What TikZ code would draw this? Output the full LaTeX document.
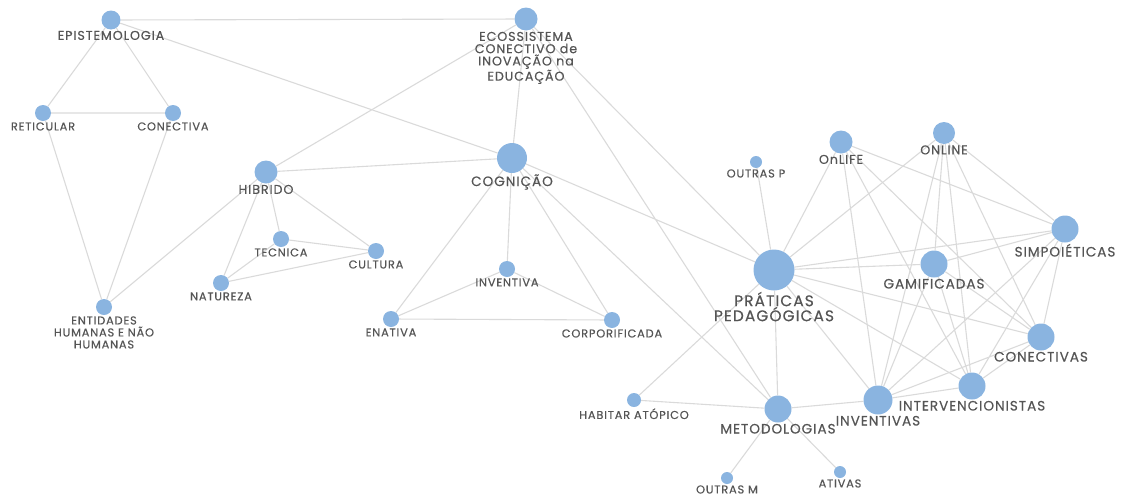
\documentclass[tikz,border=0pt]{standalone}
\usepackage{fontspec}
\setmainfont{Poppins}[LetterSpace=7,FakeBold=0.4]
\usetikzlibrary{backgrounds}
\definecolor{dotblue}{RGB}{138,180,224}
\definecolor{linkgray}{RGB}{218,218,218}
\definecolor{tagray}{RGB}{85,85,85}
\tikzset{
  dot/.style={circle,fill=dotblue,inner sep=0pt,minimum size=#1},
  tagS/.style={text=tagray,inner sep=1pt,align=center,font=\fontsize{11.4}{12}\selectfont},
  tagM/.style={text=tagray,inner sep=1pt,align=center,font=\fontsize{12.7}{12.3}\selectfont},
  tagL/.style={text=tagray,inner sep=1pt,align=center,font=\fontsize{13.6}{14}\selectfont},
  tagXL/.style={text=tagray,inner sep=1pt,align=center,font=\fontsize{15.4}{15}\selectfont},
  link/.style={draw=linkgray,line width=1.1pt},
}
\begin{document}
\begin{tikzpicture}[x=1pt,y=-1pt]
  \useasboundingbox (0,0) rectangle (1121,498);
  % left block
  \node[dot=19pt,label={[tagM]below:EPISTEMOLOGIA}] (epi) at (111,20) {};
  \node[dot=16pt,label={[tagS]below:RETICULAR}] (ret) at (43,113) {};
  \node[dot=16pt,label={[tagS]below:CONECTIVA}] (con) at (173,113) {};
  \node[dot=16pt,label={[tagS]below:ENTIDADES\\HUMANAS E NÃO\\HUMANAS}] (ent) at (104,307) {};
  \node[dot=23pt,label={[tagM]below:HIBRIDO}] (hib) at (266,172) {};
  \node[dot=16pt,label={[tagS]below:TECNICA}] (tec) at (281,239) {};
  \node[dot=16pt,label={[tagS]below:CULTURA}] (cul) at (376,251) {};
  \node[dot=16pt,label={[tagS]below:NATUREZA}] (nat) at (221,283) {};
  % middle block
  \node[dot=23pt,label={[tagM]below:ECOSSISTEMA\\CONECTIVO de\\INOVAÇÃO na\\EDUCAÇÃO}] (eco) at (526,19) {};
  \node[dot=30pt,label={[tagL]below:COGNIÇÃO}] (cog) at (512,158) {};
  \node[dot=16pt,label={[tagS]below:INVENTIVA}] (inv) at (507,269) {};
  \node[dot=16pt,label={[tagS]below:ENATIVA}] (ena) at (391,319) {};
  \node[dot=16pt,label={[tagS]below:CORPORIFICADA}] (cor) at (612,320) {};
  % right block
  \node[dot=41pt,label={[tagXL]below:PRÁTICAS\\PEDAGÓGICAS}] (prat) at (774,270) {};
  \node[dot=12pt,label={[tagS]below:OUTRAS P}] (outp) at (756,162) {};
  \node[dot=23pt,label={[tagM]below:OnLIFE}] (onlife) at (841,142) {};
  \node[dot=22pt,label={[tagM]below:ONLINE}] (online) at (944,133) {};
  \node[dot=27pt,label={[tagL]below:SIMPOIÉTICAS}] (simp) at (1065,229) {};
  \node[dot=27pt,label={[tagL]below:GAMIFICADAS}] (gam) at (934,264) {};
  \node[dot=27pt,label={[tagL]below:CONECTIVAS}] (conv) at (1041,337) {};
  \node[dot=27pt,label={[tagL]below:INTERVENCIONISTAS}] (interv) at (972,386) {};
  \node[dot=29pt,label={[tagL]below:INVENTIVAS}] (invs) at (878,400) {};
  \node[dot=27pt,label={[tagL]below:METODOLOGIAS}] (met) at (778,409) {};
  \node[dot=14pt,label={[tagS]below:HABITAR ATÓPICO}] (hab) at (634,400) {};
  \node[dot=12pt,label={[tagS]below:OUTRAS M}] (outm) at (727,478) {};
  \node[dot=12pt,label={[tagS]below:ATIVAS}] (ati) at (840,472) {};
  \begin{pgfonlayer}{background}
    \draw[link] (epi) -- (eco) (epi) -- (ret) (epi) -- (con) (epi) -- (cog)
      (ret) -- (con) (ret) -- (ent) (con) -- (ent) (ent) -- (hib);
    \draw[link] (hib) -- (eco) (hib) -- (cog) (hib) -- (tec) (hib) -- (nat) (hib) -- (cul)
      (tec) -- (cul) (tec) -- (nat) (nat) -- (cul);
    \draw[link] (eco) -- (cog) (eco) -- (prat) (eco) -- (met)
      (cog) -- (inv) (cog) -- (ena) (cog) -- (cor) (cog) -- (prat) (cog) -- (met)
      (inv) -- (ena) (inv) -- (cor) (ena) -- (cor);
    \draw[link] (outp) -- (prat) (prat) -- (onlife) (prat) -- (online) (prat) -- (simp)
      (prat) -- (gam) (prat) -- (conv) (prat) -- (interv) (prat) -- (invs)
      (prat) -- (met) (prat) -- (hab);
    \draw[link] (onlife) -- (simp) (onlife) -- (invs) (onlife) -- (interv) (onlife) -- (conv)
      (online) -- (gam) (online) -- (invs) (online) -- (interv) (online) -- (conv) (online) -- (simp);
    \draw[link] (simp) -- (gam) (simp) -- (conv) (simp) -- (interv) (simp) -- (invs)
      (gam) -- (invs) (gam) -- (interv) (gam) -- (conv)
      (conv) -- (interv) (conv) -- (invs) (invs) -- (interv);
    \draw[link] (invs) -- (met) (met) -- (hab) (met) -- (outm) (met) -- (ati);
  \end{pgfonlayer}
\end{tikzpicture}
\end{document}
